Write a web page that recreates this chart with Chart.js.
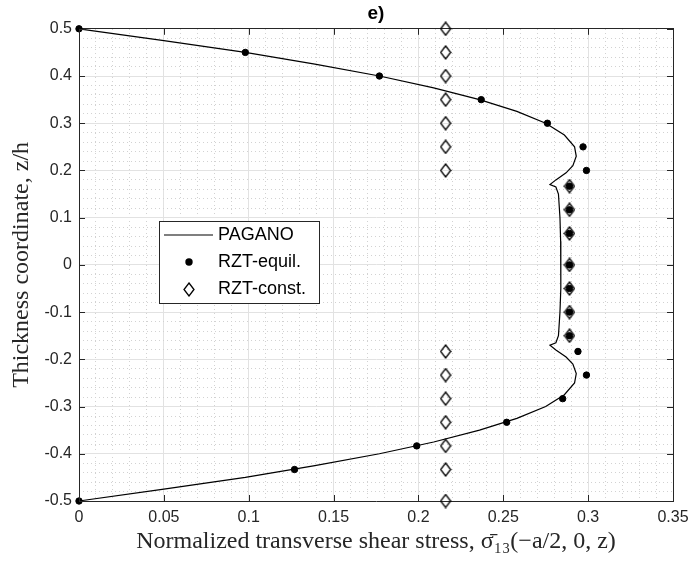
<!DOCTYPE html>
<html lang="en">
<head>
<meta charset="UTF-8">
<title>e) transverse shear stress</title>
<script src="https://cdn.jsdelivr.net/npm/chart.js"></script>
<style>
  body { margin: 0; background: #fff; }
  #wrap { width: 688px; height: 561px; }
</style>
</head>
<body>
<div id="wrap"><canvas id="chart" width="688" height="561"></canvas></div>
<script>
  // PAGANO exact solution
  const paganoX = [0, 0.050, 0.098, 0.139, 0.177, 0.209, 0.236, 0.258, 0.275, 0.286, 0.292, 0.293, 0.291, 0.287, 0.281, 0.2775,
                   0.2810, 0.2825, 0.2834, 0.2838, 0.2840, 0.2838, 0.2834, 0.2825, 0.2810,
                   0.2775, 0.281, 0.287, 0.291, 0.293, 0.292, 0.286, 0.275, 0.258, 0.236, 0.209, 0.177, 0.139, 0.098, 0.050, 0];
  const paganoZ = [0.5, 0.475, 0.45, 0.425, 0.40, 0.375, 0.35, 0.325, 0.30, 0.275, 0.25, 0.23, 0.21, 0.195, 0.18, 0.17,
                   0.165, 0.15, 0.10, 0.05, 0, -0.05, -0.10, -0.15, -0.165,
                   -0.17, -0.18, -0.195, -0.21, -0.23, -0.25, -0.275, -0.30, -0.325, -0.35, -0.375, -0.40, -0.425, -0.45, -0.475, -0.5];

  // RZT-equil.
  const equilX = [0, 0.098, 0.177, 0.237, 0.276, 0.297, 0.299,
                  0.289, 0.289, 0.289, 0.289, 0.289, 0.289, 0.289,
                  0.294, 0.299, 0.285, 0.252, 0.199, 0.127, 0];
  const equilZ = [0.5, 0.45, 0.40, 0.35, 0.30, 0.25, 0.20,
                  0.1667, 0.1167, 0.0667, 0, -0.05, -0.10, -0.15,
                  -0.1833, -0.2333, -0.2833, -0.3333, -0.3833, -0.4333, -0.5];

  // RZT-const.
  const constX = [0.216, 0.216, 0.216, 0.216, 0.216, 0.216, 0.216,
                  0.289, 0.289, 0.289, 0.289, 0.289, 0.289, 0.289,
                  0.216, 0.216, 0.216, 0.216, 0.216, 0.216, 0.216];
  const constZ = [0.5, 0.45, 0.40, 0.35, 0.30, 0.25, 0.20,
                  0.1667, 0.1167, 0.0667, 0, -0.05, -0.10, -0.15,
                  -0.1833, -0.2333, -0.2833, -0.3333, -0.3833, -0.4333, -0.5];

  const xTicks = [0, 0.05, 0.1, 0.15, 0.2, 0.25, 0.3, 0.35];
  const xTickLabels = ['0', '0.05', '0.1', '0.15', '0.2', '0.25', '0.3', '0.35'];
  const yTicks = [-0.5, -0.4, -0.3, -0.2, -0.1, 0, 0.1, 0.2, 0.3, 0.4, 0.5];
  const yTickLabels = ['-0.5', '-0.4', '-0.3', '-0.2', '-0.1', '0', '0.1', '0.2', '0.3', '0.4', '0.5'];

  // minor grid positions
  const xMinor = [];
  for (let i = 0; i <= 35; i++) xMinor.push(i / 100);
  const yMinor = [];
  for (let i = -25; i <= 25; i++) yMinor.push(i / 50);

  const toPts = (xs, zs) => xs.map((x, i) => ({ x: x, y: zs[i] }));
  const isMajor = (v, step) => Math.abs(v / step - Math.round(v / step)) < 1e-6;

  // open diamond marker, a bit taller than wide like the original
  const diamond = document.createElement('canvas');
  diamond.width = 12;
  diamond.height = 15;
  (function () {
    const c = diamond.getContext('2d');
    c.strokeStyle = '#000';
    c.lineWidth = 1.3;
    c.beginPath();
    c.moveTo(6, 1); c.lineTo(11, 7.5); c.lineTo(6, 14); c.lineTo(1, 7.5); c.closePath();
    c.stroke();
  })();

  const axisColor = '#262626';
  const tickFont = { family: '"Liberation Sans", Arial, sans-serif', size: 16 };
  const serif = { family: '"Liberation Serif", "Times New Roman", serif', size: 24 };

  // inward ticks on all four sides
  const innerTicks = {
    id: 'innerTicks',
    afterDatasetsDraw(chart) {
      const { ctx, chartArea: a, scales } = chart;
      ctx.save();
      ctx.strokeStyle = axisColor;
      ctx.lineWidth = 1;
      ctx.beginPath();
      xTicks.forEach(v => {
        const px = Math.round(scales.x.getPixelForValue(v)) + 0.5;
        ctx.moveTo(px, a.bottom); ctx.lineTo(px, a.bottom - 6);
        ctx.moveTo(px, a.top); ctx.lineTo(px, a.top + 6);
      });
      yTicks.forEach(v => {
        const py = Math.round(scales.y.getPixelForValue(v)) + 0.5;
        ctx.moveTo(a.left, py); ctx.lineTo(a.left + 6, py);
        ctx.moveTo(a.right, py); ctx.lineTo(a.right - 6, py);
      });
      ctx.stroke();
      ctx.restore();
    }
  };

  // boxed legend inside the plot
  const boxLegend = {
    id: 'boxLegend',
    afterDraw(chart, args, o) {
      const ctx = chart.ctx;
      ctx.save();
      ctx.fillStyle = '#fff';
      ctx.fillRect(o.left, o.top, o.width, o.height);
      ctx.strokeStyle = axisColor;
      ctx.lineWidth = 1;
      ctx.strokeRect(o.left + 0.5, o.top + 0.5, o.width, o.height);
      ctx.font = o.font;
      ctx.textBaseline = 'middle';
      chart.data.datasets.forEach((ds, i) => {
        const y = o.top + o.firstRow + i * o.rowGap;
        const mx = o.left + o.markerX;
        if (ds.showLine) {
          ctx.strokeStyle = ds.borderColor;
          ctx.lineWidth = ds.borderWidth;
          ctx.beginPath();
          ctx.moveTo(o.left + 5, y); ctx.lineTo(o.left + 54, y);
          ctx.stroke();
        } else if (ds.pointStyle === diamond) {
          ctx.drawImage(diamond, Math.round(mx - diamond.width / 2), Math.round(y - diamond.height / 2));
        } else {
          ctx.fillStyle = ds.backgroundColor;
          ctx.beginPath();
          ctx.arc(mx, y, ds.pointRadius + 0.5, 0, Math.PI * 2);
          ctx.fill();
        }
        ctx.fillStyle = '#000';
        ctx.fillText(ds.label, o.left + o.textX, y);
      });
      ctx.restore();
    }
  };

  new Chart(document.getElementById('chart'), {
    type: 'scatter',
    data: {
      datasets: [
        {
          label: 'PAGANO',
          data: toPts(paganoX, paganoZ),
          showLine: true,
          borderColor: '#000',
          borderWidth: 1.2,
          pointRadius: 0,
          fill: false,
          order: 3
        },
        {
          label: 'RZT-equil.',
          data: toPts(equilX, equilZ),
          backgroundColor: '#000',
          borderColor: '#000',
          borderWidth: 1,
          pointRadius: 3.2,
          order: 2
        },
        {
          label: 'RZT-const.',
          data: toPts(constX, constZ),
          pointStyle: diamond,
          pointRadius: 6,
          order: 1
        }
      ]
    },
    options: {
      responsive: false,
      animation: false,
      clip: false,
      layout: { padding: { left: 0, right: 15, top: 0, bottom: 0 } },
      scales: {
        x: {
          type: 'linear',
          position: 'bottom',
          min: 0,
          max: 0.35,
          afterBuildTicks: s => { s.ticks = xTicks.map(v => ({ value: v })); },
          afterFit: s => { s.height = 60; s.paddingLeft = 0; s.paddingRight = 0; },
          ticks: {
            autoSkip: false,
            maxRotation: 0,
            padding: 7,
            color: axisColor,
            font: tickFont,
            callback: (v, i) => xTickLabels[i]
          },
          grid: { color: '#e2e2e2', lineWidth: 1, drawTicks: false },
          border: { display: true, color: axisColor, width: 1 },
          title: {
            display: true,
            text: 'Normalized transverse shear stress, σ̄₁₃(−a/2, 0, z)',
            color: axisColor,
            font: serif,
            padding: { top: 0, bottom: 5 }
          }
        },
        x2: {
          type: 'linear',
          position: 'top',
          min: 0,
          max: 0.35,
          afterBuildTicks: s => { s.ticks = xMinor.map(v => ({ value: v })); },
          afterFit: s => { s.height = 0; },
          ticks: { display: false },
          grid: {
            drawTicks: false,
            lineWidth: 1,
            color: c => (c.tick && isMajor(c.tick.value, 0.05)) ? 'rgba(0,0,0,0)' : '#d2d2d2'
          },
          border: { display: true, color: axisColor, width: 1, dash: [1, 3] }
        },
        y: {
          type: 'linear',
          position: 'left',
          min: -0.5,
          max: 0.5,
          afterBuildTicks: s => { s.ticks = yTicks.map(v => ({ value: v })); },
          afterFit: s => { s.width = 79; s.paddingTop = 0; s.paddingBottom = 0; },
          ticks: {
            autoSkip: false,
            padding: 7,
            color: axisColor,
            font: tickFont,
            callback: (v, i) => yTickLabels[i]
          },
          grid: { color: '#e2e2e2', lineWidth: 1, drawTicks: false },
          border: { display: true, color: axisColor, width: 1 },
          title: {
            display: true,
            text: 'Thickness coordinate, z/h',
            color: axisColor,
            font: serif,
            padding: { top: 7, bottom: 0 }
          }
        },
        y2: {
          type: 'linear',
          position: 'right',
          min: -0.5,
          max: 0.5,
          afterBuildTicks: s => { s.ticks = yMinor.map(v => ({ value: v })); },
          afterFit: s => { s.width = 0; },
          ticks: { display: false },
          grid: {
            drawTicks: false,
            lineWidth: 1,
            color: c => (c.tick && isMajor(c.tick.value, 0.1)) ? 'rgba(0,0,0,0)' : '#d2d2d2'
          },
          border: { display: true, color: axisColor, width: 1, dash: [1, 3] }
        }
      },
      plugins: {
        legend: { display: false },
        tooltip: { enabled: false },
        title: {
          display: true,
          text: 'e)',
          fullSize: false,
          color: '#000',
          font: { family: '"Liberation Sans", Arial, sans-serif', size: 19, weight: 'bold' },
          padding: { top: 2, bottom: 4 }
        },
        boxLegend: {
          left: 159, top: 221, width: 160, height: 82,
          firstRow: 14, rowGap: 27, markerX: 30, textX: 59,
          font: '18px "Liberation Sans", Arial, sans-serif'
        }
      }
    },
    plugins: [innerTicks, boxLegend]
  });
</script>
</body>
</html>
